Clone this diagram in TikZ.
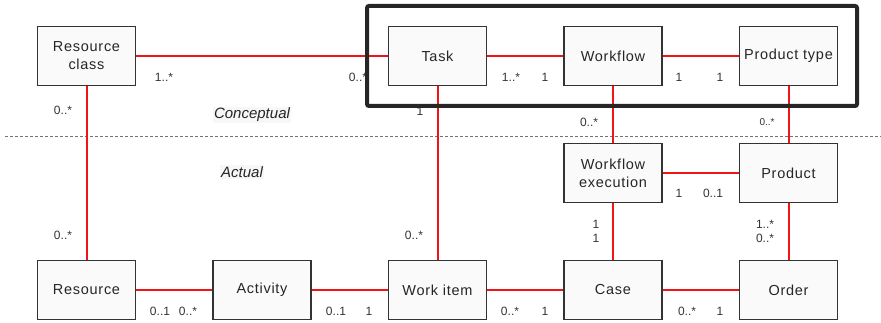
\documentclass[tikz,border=0pt]{standalone}
\usepackage{fontspec}
\setmainfont{Liberation Sans}
\newfontfamily\boxfont[LetterSpace=5]{Liberation Sans}
\definecolor{assocred}{RGB}{240,20,20}
\begin{document}
\begin{tikzpicture}[x=1pt,y=-1pt,
  cls/.style={draw=black!80, fill=black!2, line width=1.3pt, minimum width=98pt, minimum height=59pt, inner sep=0pt, align=center, font=\boxfont\fontsize{14.5}{18}\selectfont, text=black!85},
  assoc/.style={draw=assocred, line width=2pt},
  mult/.style={font=\fontsize{12}{12}\selectfont, text=black!80, inner sep=0pt},
  layer/.style={font=\itshape\fontsize{15}{15}\selectfont, text=black!85, inner sep=1pt}]
\useasboundingbox (0,0) rectangle (881,323);
% classes
\node[cls] (rc) at (86.5,56) {Resource\\class};
\node[cls] (task) at (437.5,56) {Task};
\node[cls] (wf) at (613,56) {Workflow};
\node[cls] (pt) at (788.5,56) {Product type};
\node[cls] (wfe) at (613,173) {Workflow\\execution};
\node[cls] (prod) at (788.5,173) {Product};
\node[cls] (res) at (86.5,290) {Resource};
\node[cls] (act) at (262,290) {Activity};
\node[cls] (wi) at (437.5,290) {Work item};
\node[cls] (case) at (613,290) {Case};
\node[cls] (ord) at (788.5,290) {Order};
% separator
\coordinate (sepL) at (5,136);
\coordinate (sepR) at (881,136);
\draw[black!55, line width=0.8pt, dash pattern=on 3pt off 2pt] (sepL) -- (sepR);
\node[layer, fill=black!3] (concept) at (252,115) {Conceptual};
\node[layer, fill=black!3] (actual) at (242,172) {Actual};
% associations
\draw[assoc] (rc) -- (task);
\draw[assoc] (task) -- (wf);
\draw[assoc] (wf) -- (pt);
\draw[assoc] (rc) -- (res);
\draw[assoc] (task) -- (wi);
\draw[assoc] (wf) -- (wfe);
\draw[assoc] (pt) -- (prod);
\draw[assoc] (wfe) -- (prod);
\draw[assoc] (wfe) -- (case);
\draw[assoc] (prod) -- (ord);
\draw[assoc] (res) -- (act);
\draw[assoc] (act) -- (wi);
\draw[assoc] (wi) -- (case);
\draw[assoc] (case) -- (ord);
% multiplicities
\node[mult] (m1) at (164,77) {1..*};
\node[mult] (m2) at (358,77) {0..*};
\node[mult] (m3) at (63,110) {0..*};
\node[mult] (m4) at (420,111) {1};
\node[mult] (m5) at (511,77) {1..*};
\node[mult] (m6) at (545,77) {1};
\node[mult] (m7) at (679,77) {1};
\node[mult] (m8) at (720,77) {1};
\node[mult] (m9) at (589,122) {0..*};
\node[mult, font=\fontsize{10}{10}\selectfont] (m10) at (767,122) {0..*};
\node[mult] (m11) at (679,193) {1};
\node[mult] (m12) at (713,193) {0..1};
\node[mult] (m13) at (596,224) {1};
\node[mult] (m14) at (596,238) {1};
\node[mult] (m15) at (765,224) {1..*};
\node[mult] (m16) at (765,238) {0..*};
\node[mult] (m17) at (63,235) {0..*};
\node[mult] (m18) at (414,235) {0..*};
\node[mult] (m19) at (160,311) {0..1};
\node[mult] (m20) at (188,311) {0..*};
\node[mult] (m21) at (336,311) {0..1};
\node[mult] (m22) at (369,311) {1};
\node[mult] (m23) at (510,311) {0..*};
\node[mult] (m24) at (545,311) {1};
\node[mult] (m25) at (687,311) {0..*};
\node[mult] (m26) at (720,311) {1};
% conceptual core frame
\node[draw=black!85, line width=4pt, rounded corners=2pt, minimum width=490pt, minimum height=100pt, inner sep=0pt] (core) at (612,56) {};
\end{tikzpicture}
\end{document}
